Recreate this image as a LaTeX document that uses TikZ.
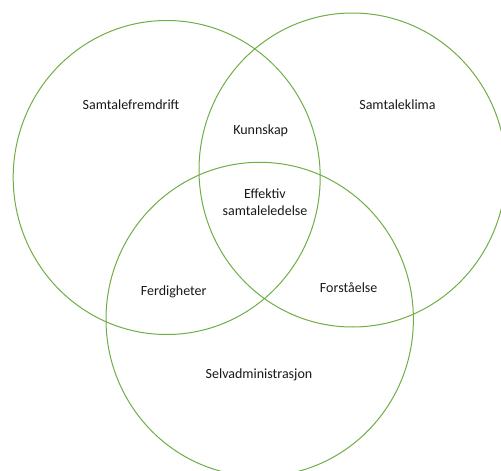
\documentclass[tikz,border=0pt]{standalone}
\usepackage{fontspec}
\setmainfont{Carlito}
\definecolor{vgreen}{RGB}{112,173,71}
\begin{document}
\begin{tikzpicture}[x=1pt,y=-1pt,
  ring/.style={draw=vgreen,line width=1pt},
  lbl/.style={font=\fontsize{14}{16.5}\selectfont,text=black!90,inner sep=0pt,align=center}]
\useasboundingbox (0,0) rectangle (501,471);
\clip (0,0) rectangle (501,471);
\draw[ring] (166.7,177.5) ellipse [x radius=153.5, y radius=157];
\draw[ring] (352.5,170) ellipse [x radius=153.5, y radius=157];
\draw[ring] (259.7,319.3) ellipse [x radius=153.7, y radius=157];
\node[lbl] (fremdrift) at (131,104.3) {Samtalefremdrift};
\node[lbl] (klima) at (397.5,104.3) {Samtaleklima};
\node[lbl] (kunnskap) at (260.7,131) {Kunnskap};
\node[lbl] (effektiv) at (265,202) {Effektiv\\samtaleledelse};
\node[lbl] (ferdig) at (173.7,292) {Ferdigheter};
\node[lbl] (forst) at (348.7,287.5) {Forståelse};
\node[lbl] (selv) at (259,374.5) {Selvadministrasjon};
\end{tikzpicture}
\end{document}
